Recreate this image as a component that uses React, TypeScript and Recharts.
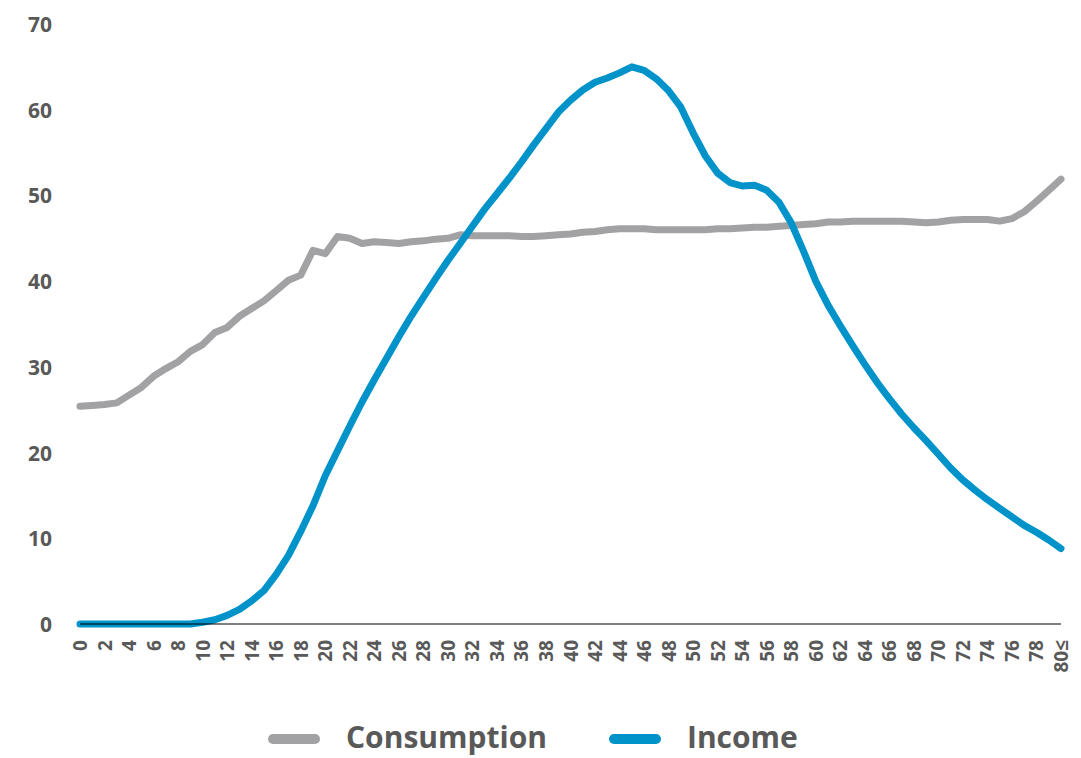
import React from "react";
import { LineChart, Line, XAxis, YAxis } from "recharts";

// Age groups (last bucket is 80 and over)
const ages = [
  "0", "1", "2", "3", "4", "5", "6", "7", "8", "9",
  "10", "11", "12", "13", "14", "15", "16", "17", "18", "19",
  "20", "21", "22", "23", "24", "25", "26", "27", "28", "29",
  "30", "31", "32", "33", "34", "35", "36", "37", "38", "39",
  "40", "41", "42", "43", "44", "45", "46", "47", "48", "49",
  "50", "51", "52", "53", "54", "55", "56", "57", "58", "59",
  "60", "61", "62", "63", "64", "65", "66", "67", "68", "69",
  "70", "71", "72", "73", "74", "75", "76", "77", "78", "79",
  "80≤",
];

const consumption = [
  25.4, 25.5, 25.6, 25.8, 26.7, 27.6, 28.9, 29.8, 30.6, 31.8,
  32.6, 34.0, 34.6, 35.9, 36.8, 37.7, 38.9, 40.1, 40.7, 43.6,
  43.2, 45.2, 45.0, 44.4, 44.6, 44.5, 44.4, 44.6, 44.7, 44.9,
  45.0, 45.4, 45.3, 45.3, 45.3, 45.3, 45.2, 45.2, 45.3, 45.4,
  45.5, 45.7, 45.8, 46.0, 46.1, 46.1, 46.1, 46.0, 46.0, 46.0,
  46.0, 46.0, 46.1, 46.1, 46.2, 46.3, 46.3, 46.4, 46.5, 46.6,
  46.7, 46.9, 46.9, 47.0, 47.0, 47.0, 47.0, 47.0, 46.9, 46.8,
  46.9, 47.1, 47.2, 47.2, 47.2, 47.0, 47.3, 48.1, 49.3, 50.6,
  51.9,
];

const income = [
  0, 0, 0, 0, 0, 0, 0, 0, 0, 0,
  0.2, 0.5, 1.0, 1.7, 2.7, 3.9, 5.8, 8.0, 10.8, 13.8,
  17.3, 20.2, 23.1, 25.9, 28.5, 31.0, 33.5, 35.9, 38.1, 40.3,
  42.4, 44.4, 46.4, 48.4, 50.2, 52.0, 53.9, 55.9, 57.8, 59.7,
  61.1, 62.3, 63.2, 63.7, 64.3, 65.0, 64.6, 63.6, 62.2, 60.3,
  57.3, 54.6, 52.6, 51.5, 51.1, 51.2, 50.6, 49.2, 46.8, 43.5,
  40.0, 37.2, 34.8, 32.5, 30.3, 28.2, 26.3, 24.5, 22.9, 21.4,
  19.8, 18.2, 16.8, 15.6, 14.5, 13.5, 12.5, 11.5, 10.7, 9.8,
  8.8,
];

const yTicks = [0, 10, 20, 30, 40, 50, 60, 70];

const series = [
  { key: "consumption", name: "Consumption", color: "#A2A2A5" },
  { key: "income", name: "Income", color: "#0093C9" },
];

const data = ages.map((age, i) => ({
  age,
  consumption: consumption[i],
  income: income[i],
}));

const FONT = "'Open Sans', 'Liberation Sans', sans-serif";
const TEXT = "#595959";

const AgeTick = (props: any) => {
  const { x, y, payload } = props;
  return (
    <text
      x={x}
      y={y}
      transform={`rotate(-90, ${x}, ${y})`}
      textAnchor="end"
      dominantBaseline="central"
      fill={TEXT}
      fontSize={19}
      fontWeight={700}
      fontFamily={FONT}
    >
      {payload.value}
    </text>
  );
};

const ValueTick = (props: any) => {
  const { x, y, payload } = props;
  return (
    <text
      x={x}
      y={y}
      textAnchor="end"
      dominantBaseline="central"
      fill={TEXT}
      fontSize={21}
      fontWeight={700}
      fontFamily={FONT}
    >
      {payload.value}
    </text>
  );
};

export default function App() {
  return (
    <div
      style={{
        position: "absolute",
        left: 0,
        top: 0,
        width: 1081,
        height: 758,
        background: "#ffffff",
        overflow: "hidden",
      }}
    >
      <LineChart
        width={1081}
        height={758}
        data={data}
        margin={{ top: 24, right: 20, left: 0, bottom: 0 }}
      >
        <XAxis
          dataKey="age"
          interval={1}
          height={134}
          tickLine={false}
          tickSize={6}
          tickMargin={10}
          axisLine={{ stroke: "#000000", strokeWidth: 1.2 }}
          tick={<AgeTick />}
        />
        <YAxis
          domain={[0, 70]}
          ticks={yTicks}
          width={80}
          axisLine={false}
          tickLine={false}
          tickSize={6}
          tickMargin={22}
          tick={<ValueTick />}
        />
        {series.map((s) => (
          <Line
            key={s.key}
            type="linear"
            dataKey={s.key}
            name={s.name}
            stroke={s.color}
            strokeWidth={7}
            strokeLinecap="round"
            strokeLinejoin="round"
            dot={false}
            activeDot={false}
            isAnimationActive={false}
          />
        ))}
      </LineChart>
      <div
        style={{
          position: "absolute",
          left: 268,
          top: 716,
          height: 41,
          display: "flex",
          alignItems: "center",
          gap: 62,
          fontFamily: FONT,
          fontWeight: 700,
          fontSize: 30,
          lineHeight: "41px",
          color: TEXT,
          whiteSpace: "nowrap",
        }}
      >
        {series.map((s) => (
          <div key={s.key} style={{ display: "flex", alignItems: "center", gap: 26, height: 41 }}>
            <div
              style={{
                width: 52,
                height: 10,
                borderRadius: 5,
                marginTop: 4,
                background: s.color,
              }}
            />
            <span style={{ lineHeight: "41px", display: "block" }}>{s.name}</span>
          </div>
        ))}
      </div>
    </div>
  );
}
